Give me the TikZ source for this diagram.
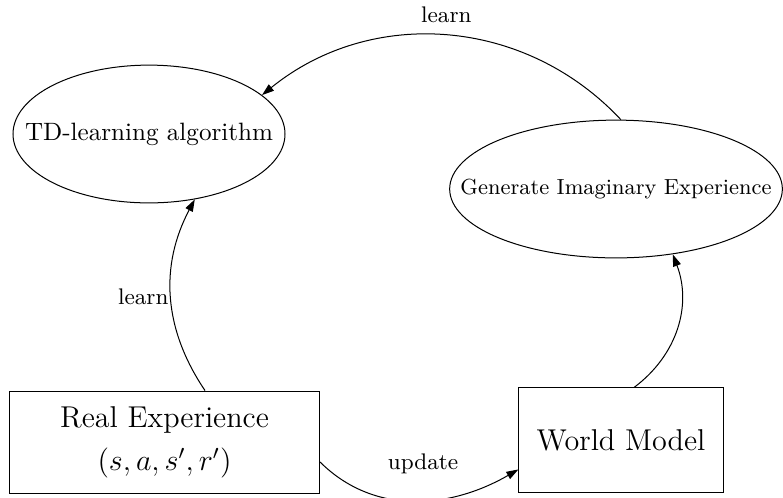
\documentclass[tikz,border=0pt]{standalone}
\usetikzlibrary{shapes.geometric,arrows.meta}
\begin{document}
\begin{tikzpicture}[x=0.014cm,y=-0.014cm,>={Triangle[length=4.8pt,width=3.2pt]},
	algo/.style={draw,ellipse,inner xsep=-1cm,inner ysep=0pt,minimum height=1.93cm},
	store/.style={draw,rectangle,inner sep=0pt,align=center,font=\large},
	lbl/.style={font=\small}]
				\useasboundingbox (0,0) rectangle (783,497);
				\node[algo,minimum width=3.81cm] (td) at (149,134) {TD-learning algorithm};
				\node[algo,minimum width=4.66cm,font=\fontsize{8.7pt}{10pt}\selectfont] (gen) at (616,189) {Generate Imaginary Experience};
				\node[store,minimum width=4.33cm,minimum height=1.44cm] (real) at (164.5,442.5) {Real Experience\\[3pt] $(s,a,s',r')$};
				\node[store,minimum width=2.86cm,minimum height=1.46cm] (world) at (621,440) {World Model};
				\draw[->] (gen.86) to[bend right=43] node[lbl,midway,above=1.5pt] {learn} (td.19);
				\draw[->] (real.52) to[bend left=31] node[lbl,midway,left=-2.5pt] {learn} (td.-55);
				\draw[->] (real.-7) to[out=-45,in=-150] node[lbl,midway,above=7pt,xshift=3.5pt] {update} (world.196);
				\draw[->] (world.76) to[bend right=37] (gen.-49);
			\end{tikzpicture}
\end{document}
